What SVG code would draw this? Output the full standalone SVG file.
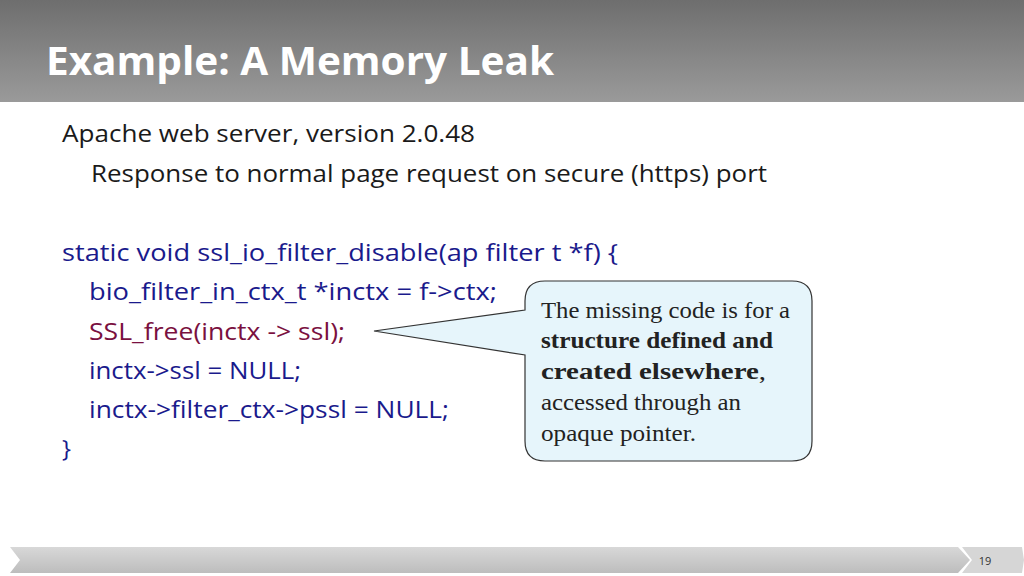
<svg xmlns="http://www.w3.org/2000/svg" width="1024" height="576" viewBox="0 0 1024 576">
<defs>
<linearGradient id="hd" x1="0" y1="0" x2="0" y2="1"><stop offset="0" stop-color="#6e6e6e"/><stop offset="1" stop-color="#9a9a9a"/></linearGradient>
<linearGradient id="ft" x1="0" y1="0" x2="0" y2="1"><stop offset="0" stop-color="#d8d8d8"/><stop offset="1" stop-color="#bdbdbd"/></linearGradient>
<style>
.c{font-family:"Open Sans","Liberation Sans",sans-serif;font-size:24px;fill:#1a1a8c}
.b{font-family:"Open Sans","Liberation Sans",sans-serif;font-size:24px;fill:#1a1a1a}
.s{font-family:"Liberation Serif",serif;font-size:23px;fill:#222}
</style>
</defs>
<rect width="1024" height="576" fill="#fff"/>
<rect width="1024" height="102" fill="url(#hd)"/>
<text x="46" y="75" font-family="Open Sans, Liberation Sans, sans-serif" font-weight="bold" font-size="40" fill="#fff" textLength="508" lengthAdjust="spacingAndGlyphs">Example: A Memory Leak</text>
<text class="b" x="62" y="142" textLength="413" lengthAdjust="spacingAndGlyphs">Apache web server, version 2.0.48</text>
<text class="b" x="91" y="182" textLength="676" lengthAdjust="spacingAndGlyphs">Response to normal page request on secure (https) port</text>
<text class="c" x="62" y="261" textLength="556" lengthAdjust="spacingAndGlyphs">static void ssl_io_filter_disable(ap filter t *f)  {</text>
<text class="c" x="89" y="300" textLength="408" lengthAdjust="spacingAndGlyphs">bio_filter_in_ctx_t *inctx = f-&gt;ctx;</text>
<text class="c" x="89" y="340" style="fill:#7a1040" textLength="256" lengthAdjust="spacingAndGlyphs">SSL_free(inctx -&gt; ssl);</text>
<text class="c" x="89" y="379" textLength="212" lengthAdjust="spacingAndGlyphs">inctx-&gt;ssl = NULL;</text>
<text class="c" x="89" y="418" textLength="360" lengthAdjust="spacingAndGlyphs">inctx-&gt;filter_ctx-&gt;pssl = NULL;</text>
<text class="c" x="62" y="457">}</text>
<g id="callout">
<path d="M545,281 H792 Q812,281 812,301 V441 Q812,461 792,461 H545 Q525,461 525,441 V355 L374,331 L525,310 V301 Q525,281 545,281 Z" fill="#e6f5fb" stroke="#333" stroke-width="1.2"/>
<text class="s" x="541" y="318" textLength="249" lengthAdjust="spacingAndGlyphs">The missing code is for a</text>
<text class="s" x="541" y="348" font-weight="bold" textLength="232" lengthAdjust="spacingAndGlyphs">structure defined and</text>
<text class="s" x="541" y="379" textLength="225" lengthAdjust="spacingAndGlyphs"><tspan font-weight="bold">created elsewhere</tspan>,</text>
<text class="s" x="541" y="410" textLength="200" lengthAdjust="spacingAndGlyphs">accessed through an</text>
<text class="s" x="541" y="441" textLength="155" lengthAdjust="spacingAndGlyphs">opaque pointer.</text>
</g>
<path d="M10,547 H958 L970,560 L958,573 H10 L20,560 Z" fill="url(#ft)"/>
<path d="M962,547 H1022 L1024,560 L1022,573 H962 L972,560 Z" fill="#d6d6d6"/>
<text x="985" y="565" font-family="Open Sans, Liberation Sans, sans-serif" font-size="11" fill="#333" text-anchor="middle">19</text>
</svg>
